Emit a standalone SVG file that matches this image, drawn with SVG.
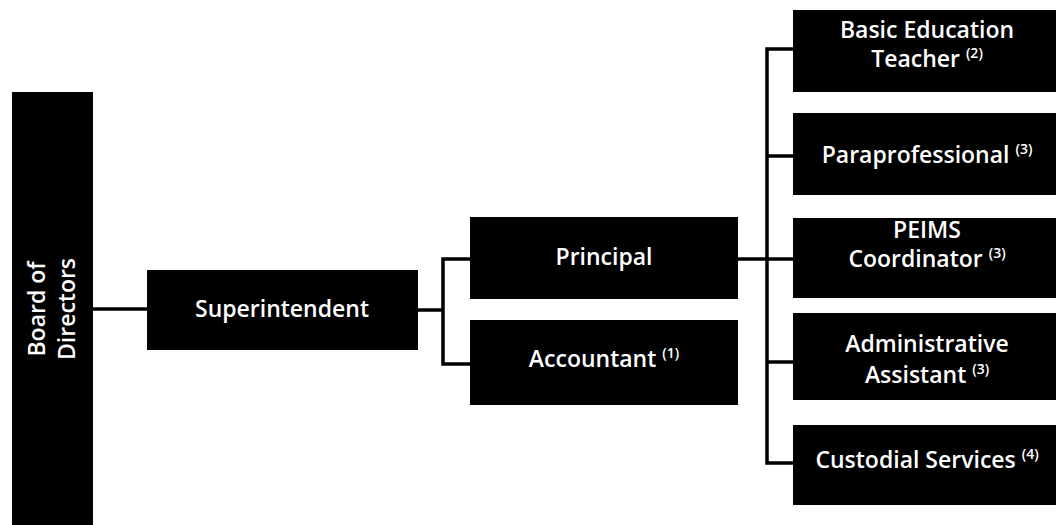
<svg xmlns="http://www.w3.org/2000/svg" width="1056" height="525" viewBox="0 0 1056 525">
<style>
.box{fill:#000;}
.t{fill:#fff;font-family:"Open Sans","Liberation Sans",sans-serif;font-weight:600;font-size:23px;text-anchor:middle;}
.sup{font-size:14px;}
.c{stroke:#000;stroke-width:3.5;fill:none;stroke-linejoin:miter;}
</style>
<rect width="1056" height="525" fill="#fff"/>
<g id="connectors">
<path class="c" d="M93 309H147"/>
<path class="c" d="M418 310H443M470 259H443V364H470"/>
<path class="c" d="M738 259H793"/>
<path class="c" d="M793 49H767V463H793M767 156H793M767 362H793"/>
</g>
<g id="board">
<rect class="box" x="12" y="92" width="81" height="440"/>
<text class="t" transform="translate(45 309) rotate(-90)">Board of</text>
<text class="t" transform="translate(75 309) rotate(-90)">Directors</text>
</g>
<g id="superintendent">
<rect class="box" x="147" y="270" width="271" height="80"/>
<text class="t" x="282" y="317">Superintendent</text>
</g>
<g id="principal">
<rect class="box" x="470" y="217" width="268" height="82"/>
<text class="t" x="604" y="265">Principal</text>
</g>
<g id="accountant">
<rect class="box" x="470" y="320" width="268" height="85"/>
<text class="t" x="604" y="367">Accountant <tspan class="sup" dy="-9">(1)</tspan></text>
</g>
<g id="teacher">
<rect class="box" x="793" y="10" width="270" height="82"/>
<text class="t" x="927" y="38">Basic Education</text>
<text class="t" x="927" y="67">Teacher <tspan class="sup" dy="-9">(2)</tspan></text>
</g>
<g id="paraprofessional">
<rect class="box" x="793" y="113" width="270" height="82"/>
<text class="t" x="927" y="163">Paraprofessional <tspan class="sup" dy="-9">(3)</tspan></text>
</g>
<g id="peims">
<rect class="box" x="793" y="218" width="270" height="80"/>
<text class="t" x="927" y="238">PEIMS</text>
<text class="t" x="927" y="267">Coordinator <tspan class="sup" dy="-9">(3)</tspan></text>
</g>
<g id="admin">
<rect class="box" x="793" y="313" width="270" height="87"/>
<text class="t" x="927" y="352">Administrative</text>
<text class="t" x="927" y="383">Assistant <tspan class="sup" dy="-9">(3)</tspan></text>
</g>
<g id="custodial">
<rect class="box" x="793" y="425" width="270" height="80"/>
<text class="t" x="927" y="468">Custodial Services <tspan class="sup" dy="-9">(4)</tspan></text>
</g>
</svg>
